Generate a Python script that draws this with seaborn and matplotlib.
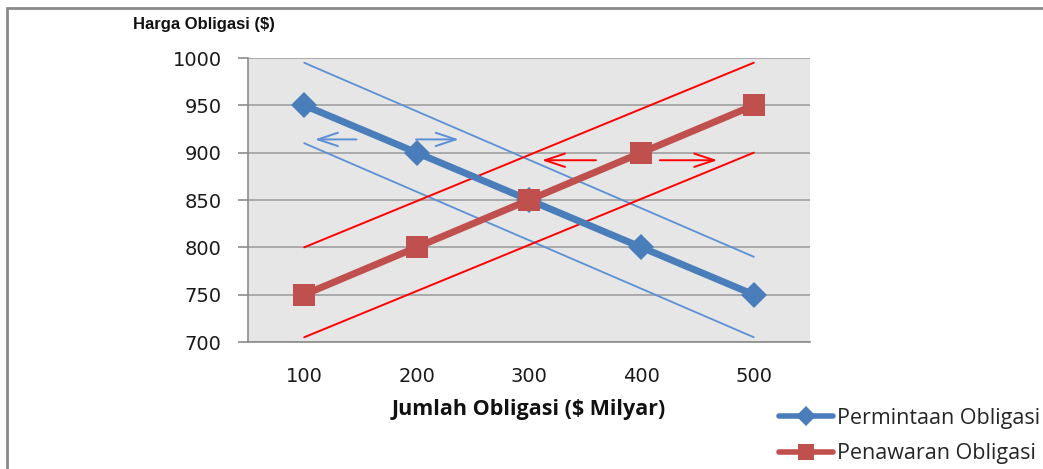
import numpy as np
import pandas as pd
import matplotlib
matplotlib.use("Agg")
import matplotlib.pyplot as plt
import seaborn as sns
from matplotlib.patches import Rectangle
from matplotlib.lines import Line2D

# ---- data ----
jumlah = [100, 200, 300, 400, 500]
permintaan = [950, 900, 850, 800, 750]
penawaran = [750, 800, 850, 900, 950]
series_names = ["Permintaan Obligasi", "Penawaran Obligasi"]

# shifted curves (thin lines): endpoints at x=100 and x=500
shift_x = [100, 500]
demand_up = [995, 790]
demand_down = [910, 705]
supply_up = [800, 995]
supply_down = [705, 900]

# shift arrows (start x, end x, y)
blue_arrow_left = (149, 107, 914)
blue_arrow_right = (197, 240, 914)
red_arrow_left = (362, 309, 892)
red_arrow_right = (414, 470, 892)

yticks = [700, 750, 800, 850, 900, 950, 1000]

sns.set_theme(style="white")
plt.rcParams['font.family'] = ['DejaVu Sans']

df = pd.DataFrame({
    "x": jumlah * 2,
    "y": permintaan + penawaran,
    "s": [series_names[0]] * 5 + [series_names[1]] * 5,
})

fig = plt.figure(figsize=(10.43, 4.69), dpi=100)
ax = fig.add_axes([248 / 1043, 1 - 342 / 469, (810 - 248) / 1043, (342 - 58) / 469])
ax.set_facecolor("#e6e6e6")

blue = "#4a7ebb"
red = "#c0504d"

# thin shifted lines
thin_blue = "#5b8fd6"
thin_red = "#ff0000"
ax.plot(shift_x, demand_up, color=thin_blue, lw=1.3, zorder=2)
ax.plot(shift_x, demand_down, color=thin_blue, lw=1.3, zorder=2)
ax.plot(shift_x, supply_up, color=thin_red, lw=1.4, zorder=2)
ax.plot(shift_x, supply_down, color=thin_red, lw=1.4, zorder=2)

sns.lineplot(data=df, x="x", y="y", hue="s", style="s",
             palette={series_names[0]: blue, series_names[1]: red},
             markers={series_names[0]: "D", series_names[1]: "s"},
             dashes=False, lw=5, markersize=12, markeredgewidth=0,
             legend=False, ax=ax, zorder=3)
lines = ax.get_lines()
lines[-2].set_markersize(13)
lines[-1].set_markersize(16)

for (x0, x1, yy), c in [(blue_arrow_left, thin_blue), (blue_arrow_right, thin_blue),
                        (red_arrow_left, thin_red), (red_arrow_right, thin_red)]:
    ax.annotate("", xy=(x1, yy), xytext=(x0, yy),
                arrowprops=dict(arrowstyle="->,head_length=1.2,head_width=0.4",
                                color=c, lw=1.4), zorder=4)

ax.set_xlim(50, 550)
ax.set_ylim(700, 1000)
ax.set_yticks(yticks)
ax.set_xticks(jumlah)
ax.yaxis.grid(True, color="#a0a0a0", lw=1.2)
ax.set_axisbelow(True)
for s in ["top", "right"]:
    ax.spines[s].set_visible(False)
for s in ["left", "bottom"]:
    ax.spines[s].set_color("#8c8c8c")
    ax.spines[s].set_linewidth(1.2)
ax.tick_params(axis="y", length=7, width=1.2, color="#8c8c8c", pad=12,
               labelsize=14, labelcolor="#1a1a1a", left=True)
ax.tick_params(axis="x", length=0, pad=18, labelsize=14, labelcolor="#1a1a1a")
ax.set_xlabel("")
ax.set_ylabel("")

fig.text(204 / 1043, 1 - 25 / 469, "Harga Obligasi ($)", ha="center", va="center",
         fontsize=12, fontweight="bold", family=["Liberation Sans"], color="#111111")
fig.text(529 / 1043, 1 - 409 / 469, "Jumlah Obligasi ($ Milyar)", ha="center", va="center",
         fontsize=15.5, fontweight="bold", family=["Open Sans"], color="#111111")

# legend
handles = [Line2D([], [], color=blue, lw=4, marker="D", markersize=10, markeredgewidth=0),
           Line2D([], [], color=red, lw=4, marker="s", markersize=12, markeredgewidth=0)]
leg = fig.legend(handles, series_names, loc="center left",
                 bbox_to_anchor=(779 / 1043, 1 - 436 / 469), frameon=False,
                 prop={"family": "Open Sans", "size": 15.5}, handlelength=2.5,
                 handletextpad=0.2, labelspacing=0.68, borderaxespad=0, borderpad=0)

# figure border
fig.patches.append(Rectangle((7 / 1043, -0.1), 1.2, 1 - 8 / 469 + 0.1,
                             transform=fig.transFigure, fill=False,
                             edgecolor="#8a8a8a", lw=2))

fig.savefig("out.png", dpi=100)
